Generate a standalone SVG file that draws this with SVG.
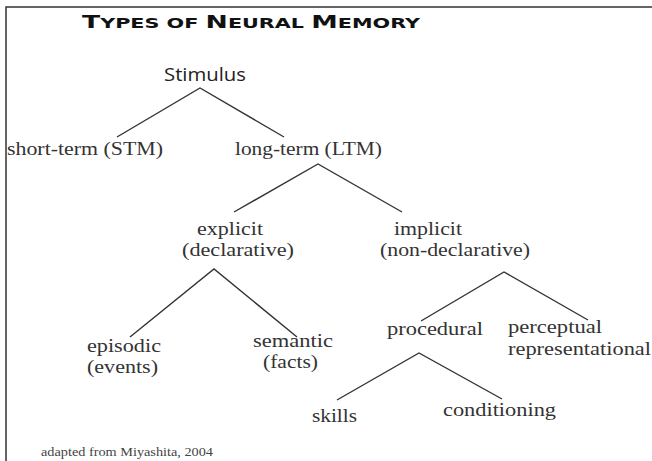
<svg xmlns="http://www.w3.org/2000/svg" width="652" height="461" viewBox="0 0 652 461">
<style>
.t{font-family:"Liberation Serif","Times New Roman",serif;font-size:19px;fill:#333}
.s{font-family:"Open Sans","DejaVu Sans",sans-serif;font-size:18px;fill:#222}
.title{font-family:"DejaVu Sans",sans-serif;font-weight:bold;fill:#111}
.ln{fill:none;stroke:#333;stroke-width:1.4}
.foot{font-family:"Liberation Serif",serif;font-size:11.5px;fill:#444}
</style>
<rect width="652" height="461" fill="#fff"/>
<path d="M6,461 V7 H652" fill="none" stroke="#333" stroke-width="1.5"/>
<text class="title" x="82" y="28" textLength="338" lengthAdjust="spacingAndGlyphs"><tspan font-size="18">T</tspan><tspan font-size="14">YPES OF </tspan><tspan font-size="18">N</tspan><tspan font-size="14">EURAL </tspan><tspan font-size="18">M</tspan><tspan font-size="14">EMORY</tspan></text>
<g id="connectors">
<path class="ln" d="M117,137 L200,88 L284,137"/>
<path class="ln" d="M234,212 L318,164 L402,212"/>
<path class="ln" d="M130,337 L214,269 L297,337"/>
<path class="ln" d="M421,321 L504,272 L588,320"/>
<path class="ln" d="M337,400 L419,353 L502,399"/>
</g>
<g id="stimulus"><text class="s" x="164" y="81" textLength="82" lengthAdjust="spacingAndGlyphs">Stimulus</text></g>
<g id="stm"><text class="t" x="7" y="155" textLength="156" lengthAdjust="spacingAndGlyphs">short-term (STM)</text></g>
<g id="ltm"><text class="t" x="235" y="155" textLength="147" lengthAdjust="spacingAndGlyphs">long-term (LTM)</text></g>
<g id="explicit"><text class="t" x="197" y="235" textLength="66" lengthAdjust="spacingAndGlyphs">explicit</text><text class="t" x="182" y="256" textLength="112" lengthAdjust="spacingAndGlyphs">(declarative)</text></g>
<g id="implicit"><text class="t" x="394" y="235" textLength="68" lengthAdjust="spacingAndGlyphs">implicit</text><text class="t" x="380" y="256" textLength="150" lengthAdjust="spacingAndGlyphs">(non-declarative)</text></g>
<g id="episodic"><text class="t" x="87" y="352" textLength="74" lengthAdjust="spacingAndGlyphs">episodic</text><text class="t" x="87" y="373" textLength="71" lengthAdjust="spacingAndGlyphs">(events)</text></g>
<g id="semantic"><text class="t" x="253" y="347" textLength="80" lengthAdjust="spacingAndGlyphs">semantic</text><text class="t" x="263" y="368" textLength="55" lengthAdjust="spacingAndGlyphs">(facts)</text></g>
<g id="procedural"><text class="t" x="387" y="335" textLength="96" lengthAdjust="spacingAndGlyphs">procedural</text></g>
<g id="perceptual"><text class="t" x="508" y="333" textLength="94" lengthAdjust="spacingAndGlyphs">perceptual</text><text class="t" x="508" y="355" textLength="143" lengthAdjust="spacingAndGlyphs">representational</text></g>
<g id="skills"><text class="t" x="312" y="422" textLength="45" lengthAdjust="spacingAndGlyphs">skills</text></g>
<g id="conditioning"><text class="t" x="443" y="416" textLength="113" lengthAdjust="spacingAndGlyphs">conditioning</text></g>
<text class="foot" x="41" y="456" textLength="172" lengthAdjust="spacingAndGlyphs">adapted from Miyashita, 2004</text>
</svg>
